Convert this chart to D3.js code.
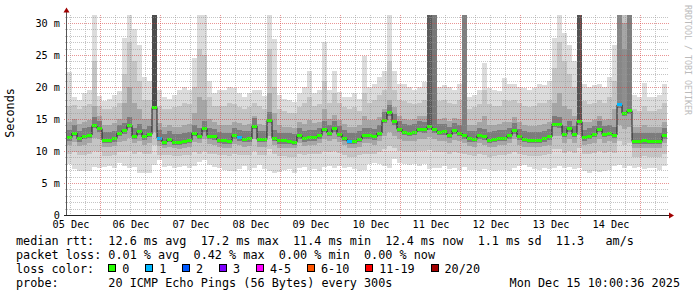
<!DOCTYPE html>
<html>
<head>
<meta charset="utf-8">
<script src="https://cdn.jsdelivr.net/npm/d3@7"></script>
<style>
	body { margin: 0; background: #fff; }
	svg { display: block; }
	text { font-family: 'DejaVu Sans Mono', monospace; fill: #000; white-space: pre; }
</style>
</head>
<body>
<script>
// 2 hour slots, 05 Dec 10:36 -> 15 Dec 10:36 (UTC used as wall clock)
const median = [
	12.1, 12.8, 11.9, 12.3, 12.5, 14.0, 13.5, 11.7, 11.7, 11.9,
	12.8, 13.2, 14.0, 12.3, 13.0, 12.2, 12.6, 16.8, 12.0, 11.4,
	11.8, 11.4, 11.4, 11.5, 11.7, 12.8, 12.3, 13.5, 12.3, 12.2,
	11.7, 11.6, 11.5, 12.4, 12.1, 11.8, 11.9, 13.9, 11.8, 11.8,
	14.8, 12.0, 11.6, 11.6, 11.5, 11.4, 12.4, 11.9, 12.1, 12.1,
	12.4, 13.4, 12.8, 13.5, 12.6, 12.0, 11.5, 11.5, 11.8, 12.4,
	12.4, 12.2, 12.8, 14.8, 16.0, 14.6, 13.4, 12.9, 12.8, 12.9,
	13.4, 13.3, 13.8, 13.3, 12.9, 13.0, 12.5, 13.2, 12.8, 12.4,
	11.9, 11.8, 12.4, 12.2, 11.7, 11.8, 12.0, 12.0, 12.4, 13.2,
	12.2, 11.8, 11.7, 11.7, 11.7, 11.9, 12.2, 14.2, 14.1, 12.6,
	13.5, 12.6, 14.6, 12.1, 12.3, 12.6, 13.4, 12.6, 12.8, 12.5,
	17.2, 15.9, 16.3, 11.5, 11.5, 11.6, 11.5, 11.5, 11.5, 12.4
];
const maxRtt = [
	22.4, 18.5, 18.0, 19.0, 19.5, 32, 18.6, 17.8, 18.2, 18.8,
	19.3, 27.6, 32, 29.0, 26.5, 21.5, 21.0, 32, 19.5, 18.5,
	18.2, 18.8, 19.5, 20.0, 19.5, 24.5, 32, 32, 21.0, 19.0,
	19.5, 19.5, 20.0, 19.8, 19.0, 18.5, 19.0, 19.5, 19.6, 18.6,
	32, 27.5, 18.8, 18.2, 18.0, 17.6, 19.0, 20.0, 22.5, 19.0,
	19.5, 27.0, 19.5, 22.5, 19.2, 18.5, 18.5, 19.0, 18.2, 24.8,
	20.0, 20.5, 21.5, 22.5, 32, 22.5, 20.5, 20.5, 20.0, 19.5,
	20.0, 20.8, 32, 32, 20.0, 20.3, 20.0, 19.5, 20.5, 32,
	18.5, 18.8, 19.5, 23.7, 19.8, 19.5, 19.3, 21.4, 20.5, 20.5,
	20.0, 19.8, 19.5, 19.8, 20.5, 20.3, 21.0, 27.6, 32, 28.4,
	26.5, 24.0, 32, 20.5, 20.0, 20.3, 20.5, 20.0, 21.5, 26.6,
	32, 32, 32, 18.8, 18.5, 20.7, 18.5, 18.5, 18.8, 20.5
];
const p90 = [
	17.0, 17.2, 16.5, 17.0, 17.3, 24.0, 17.0, 16.5, 16.5, 16.8,
	17.5, 22.0, 27.0, 24.0, 21.0, 18.0, 18.0, 32, 17.0, 16.5,
	16.5, 16.8, 17.0, 17.5, 17.3, 20.0, 26.0, 25.0, 18.5, 17.0,
	17.0, 17.0, 17.5, 17.3, 16.8, 16.5, 16.8, 17.5, 17.0, 16.5,
	26.0, 20.0, 16.5, 16.3, 16.0, 16.0, 16.8, 17.5, 18.5, 17.0,
	17.3, 21.0, 17.5, 19.0, 17.5, 16.8, 16.5, 16.8, 16.3, 19.0,
	17.5, 18.0, 18.8, 19.5, 24.0, 19.5, 18.0, 17.8, 17.5, 17.3,
	17.5, 18.0, 32, 32, 17.8, 18.0, 17.5, 17.3, 18.0, 32,
	16.5, 16.8, 17.3, 19.5, 17.3, 17.0, 17.0, 18.0, 17.8, 18.0,
	17.5, 17.0, 16.8, 17.0, 17.5, 17.5, 18.0, 23.0, 27.0, 24.0,
	22.0, 20.0, 32, 17.8, 17.3, 17.5, 18.0, 17.5, 18.5, 21.0,
	32, 32, 32, 16.5, 16.3, 17.0, 16.3, 16.3, 16.5, 17.5
];
const p75 = [
	14.5, 15.0, 14.2, 14.6, 14.8, 17.0, 15.5, 14.0, 14.0, 14.3,
	15.0, 17.5, 20.0, 17.5, 16.5, 15.0, 15.0, 32, 14.3, 13.8,
	14.0, 13.8, 13.7, 14.0, 14.2, 16.0, 18.5, 18.0, 15.0, 14.5,
	14.0, 14.0, 14.0, 14.6, 14.3, 14.0, 14.2, 15.5, 14.2, 14.0,
	19.0, 16.0, 14.0, 13.8, 13.7, 13.6, 14.5, 14.2, 14.8, 14.4,
	14.6, 16.5, 15.0, 15.7, 14.8, 14.2, 13.8, 13.8, 14.0, 15.5,
	14.8, 14.8, 15.3, 16.5, 18.0, 16.8, 15.5, 15.0, 14.9, 15.0,
	15.5, 15.4, 32, 20.0, 15.0, 15.1, 14.7, 15.2, 15.0, 22.0,
	14.0, 14.0, 14.6, 15.5, 14.0, 14.0, 14.2, 14.6, 14.6, 15.3,
	14.5, 14.0, 13.9, 13.9, 14.0, 14.2, 14.6, 17.5, 19.0, 17.0,
	16.5, 15.5, 32, 14.5, 14.6, 14.8, 15.5, 14.8, 15.0, 16.5,
	32, 30.0, 32, 13.8, 13.7, 14.0, 13.7, 13.7, 13.8, 14.6
];
const p25 = [
	11.0, 11.4, 10.8, 11.0, 11.2, 12.0, 11.8, 10.7, 10.6, 10.8,
	11.4, 11.6, 12.0, 11.2, 11.5, 11.0, 11.3, 13.0, 10.8, 10.4,
	10.6, 10.4, 10.3, 10.5, 10.6, 11.4, 11.2, 11.8, 11.1, 11.0,
	10.6, 10.5, 10.4, 11.1, 10.9, 10.7, 10.8, 11.8, 10.7, 10.7,
	12.3, 10.9, 10.5, 10.5, 10.4, 10.4, 11.2, 10.8, 11.0, 11.0,
	11.2, 11.8, 11.5, 11.9, 11.4, 10.9, 10.4, 10.4, 10.7, 11.2,
	11.2, 11.0, 11.5, 12.3, 13.0, 12.3, 11.8, 11.5, 11.5, 11.6,
	11.9, 11.8, 12.2, 11.8, 11.6, 11.6, 11.2, 11.7, 11.5, 11.2,
	10.8, 10.7, 11.2, 11.0, 10.6, 10.7, 10.9, 10.9, 11.2, 11.8,
	11.0, 10.7, 10.6, 10.6, 10.6, 10.8, 11.0, 12.3, 12.3, 11.3,
	11.9, 11.3, 12.5, 11.0, 11.1, 11.3, 11.8, 11.3, 11.5, 11.3,
	14.0, 13.5, 13.8, 10.4, 10.4, 10.5, 10.4, 10.4, 10.4, 11.2
];
const p10 = [
	9.6, 9.8, 9.3, 9.4, 9.6, 10.0, 9.8, 9.2, 9.2, 9.4,
	9.8, 9.8, 10.0, 9.6, 9.8, 9.5, 9.6, 11.0, 9.4, 9.3,
	9.4, 9.2, 9.2, 9.3, 9.3, 9.8, 9.6, 10.0, 9.6, 9.5,
	9.4, 9.3, 9.2, 9.6, 9.4, 9.3, 9.4, 10.0, 9.3, 9.3,
	10.3, 9.5, 9.2, 9.2, 9.1, 9.1, 9.6, 9.4, 9.5, 9.5,
	9.6, 10.0, 9.8, 10.0, 9.7, 9.4, 9.1, 9.1, 9.3, 9.6,
	9.6, 9.5, 9.8, 10.3, 10.8, 10.4, 10.0, 9.8, 9.8, 9.8,
	10.0, 10.0, 10.2, 9.9, 9.8, 9.8, 9.6, 9.9, 9.7, 9.5,
	9.3, 9.2, 9.5, 9.4, 9.1, 9.2, 9.3, 9.3, 9.5, 9.9,
	9.5, 9.3, 9.2, 9.2, 9.2, 9.3, 9.5, 10.3, 10.3, 9.7,
	10.0, 9.7, 10.5, 9.5, 9.5, 9.7, 10.0, 9.7, 9.8, 9.7,
	11.5, 11.0, 11.3, 9.1, 9.1, 9.2, 9.1, 9.1, 9.1, 9.6
];
const minRtt = [
	8.0, 7.2, 6.8, 6.8, 6.9, 7.5, 7.3, 7.5, 7.6, 7.4,
	8.2, 7.6, 7.4, 7.5, 6.6, 6.5, 6.6, 7.8, 8.6, 7.5,
	7.6, 7.4, 7.5, 7.6, 7.3, 7.6, 8.3, 8.6, 7.8, 7.5,
	7.4, 7.0, 6.8, 6.9, 7.2, 7.6, 7.0, 7.3, 7.8, 7.2,
	6.8, 6.6, 6.7, 7.0, 7.2, 6.6, 7.3, 7.5, 7.0, 7.2,
	6.8, 7.5, 7.6, 7.4, 7.6, 7.3, 7.5, 7.2, 6.9, 7.0,
	8.0, 8.2, 8.0, 7.6, 7.4, 8.8, 8.2, 8.0, 7.8, 8.0,
	7.7, 7.9, 7.2, 7.4, 7.3, 7.6, 7.2, 7.3, 7.1, 7.5,
	7.0, 7.0, 6.9, 7.2, 7.0, 6.8, 7.1, 7.0, 6.9, 7.3,
	7.6, 7.8, 7.5, 7.2, 7.0, 7.3, 7.2, 7.4, 7.6, 7.3,
	7.5, 7.2, 7.4, 6.8, 6.6, 6.8, 6.7, 6.9, 7.0, 7.6,
	7.8, 7.4, 7.6, 7.3, 7.5, 7.2, 7.4, 7.3, 7.0, 7.6
];
// slots where many of the 20 pings were slow (dark smoke up to the top)
const darkSlots = [17, 72, 73, 79, 102, 110, 111, 112];
const darkTops = [32, 32, 32, 32, 32, 32, 26, 32];
const slowPings = [14, 12, 8, 7, 13, 6, 5, 7];
// slots where pings were lost, and how many
const lossSlots = [18, 34, 56, 110];
const lossCounts = [1, 1, 1, 1];

const lossLabels = ['0', '1', '2', '3', '4-5', '6-10', '11-19', '20/20'];
const lossColors = ['#26ff00', '#00b8ff', '#0059ff', '#7e00ff', '#ff00ff', '#ff5500', '#ff0000', '#a10000'];
const lossLimits = [0, 1, 2, 3, 5, 10, 19, 20];

const yTicks = [0, 5, 10, 15, 20, 25, 30];
const rttLine = 'median rtt:  12.6 ms avg  17.2 ms max  11.4 ms min  12.4 ms now  1.1 ms sd  11.3   am/s';
const lossLine = 'packet loss: 0.01 % avg  0.42 % max  0.00 % min  0.00 % now';
const probeLine = 'probe:       20 ICMP Echo Pings (56 Bytes) every 300s';
const stampLine = 'Mon Dec 15 10:00:36 2025';

const width = 697;
const height = 297;
const plotLeft = 67;
const plotRight = 667;
const plotTop = 15;
const plotBottom = 215;
const slotMs = 2 * 3600e3;
const t0 = Date.UTC(2025, 11, 5, 10, 36);
const t1 = t0 + 10 * 86400e3;
const charW = 7.1;

const svg = d3.select('body').append('svg').attr('width', width).attr('height', height);

const xScale = d3.scaleUtc().domain([ new Date(t0), new Date(t1) ]).range([ plotLeft, plotRight ]);
const yScale = d3.scaleLinear().domain([ 0, 31.25 ]).range([ plotBottom, plotTop ]);
const shade = d3.scaleLinear().domain([ 5, 14 ]).range([ '#8e8e8e', '#4c4c4c' ]);
const slotTime = (i) => new Date(t0 + i * slotMs);
const slotX = (i) => xScale(slotTime(i));
const slotW = (i) => xScale(slotTime(i + 1)) - xScale(slotTime(i));
const capY = (v) => yScale(Math.min(v, 31.5));

svg.append('clipPath').attr('id', 'plot').append('rect')
	.attr('x', plotLeft).attr('y', plotTop).attr('width', plotRight - plotLeft).attr('height', plotBottom - plotTop);

const chart = svg.append('g').attr('clip-path', 'url(#plot)');
const idx = median.map((d, i) => i);

// smoke
[ [ minRtt, maxRtt, '#dcdcdc' ], [ p10, p90, '#c4c4c4' ], [ p25, p75, '#a6a6a6' ] ].forEach(([ lo, hi, col ]) => {
	chart.append('g').attr('shape-rendering', 'crispEdges')
		.selectAll('rect').data(idx).join('rect')
		.attr('x', slotX)
		.attr('width', slotW)
		.attr('y', (i) => capY(hi[i]))
		.attr('height', (i) => yScale(lo[i]) - capY(hi[i]))
		.attr('fill', col);
});

// darkest smoke close to the median
chart.append('g').attr('shape-rendering', 'crispEdges')
	.selectAll('rect').data(idx).join('rect')
	.attr('x', slotX)
	.attr('width', slotW)
	.attr('y', (i) => yScale(median[i]) - 8)
	.attr('height', 11)
	.attr('fill', '#7c7c7c');

chart.append('g').attr('shape-rendering', 'crispEdges')
	.selectAll('rect').data(darkSlots).join('rect')
	.attr('x', slotX)
	.attr('width', slotW)
	.attr('y', (s, k) => capY(darkTops[k]))
	.attr('height', (s, k) => yScale(median[s]) - capY(darkTops[k]))
	.attr('fill', (s, k) => shade(slowPings[k]));

// grid
const grid = svg.append('g').attr('shape-rendering', 'crispEdges').attr('stroke-dasharray', '1,1');
const minorCol = 'rgba(150,150,150,0.55)';
const majorCol = 'rgba(215,60,60,0.55)';
const snap = (v) => Math.round(v) + 0.5;

d3.range(1, 32).forEach((v) => {
	const yy = snap(yScale(v));
	grid.append('line').attr('x1', plotLeft - (v % 5 ? 2 : 3)).attr('x2', plotRight + 2).attr('y1', yy).attr('y2', yy)
		.attr('stroke', v % 5 ? minorCol : majorCol);
});
d3.utcHour.every(6).range(new Date(t0), new Date(t1)).forEach((t) => {
	const xx = Math.floor(xScale(t)) + 0.5;
	const major = t.getUTCHours() === 0;
	grid.append('line').attr('x1', xx).attr('x2', xx).attr('y1', plotTop).attr('y2', plotBottom + (major ? 3 : 2))
		.attr('stroke', major ? majorCol : minorCol);
});

// median: black connectors and loss coloured segments
const stepPts = idx.map((i) => [ slotTime(i), median[i] ]).concat([ [ slotTime(idx.length), median[idx.length - 1] ] ]);
const stepLine = d3.line().x((d) => xScale(d[0])).y((d) => yScale(d[1])).curve(d3.curveStepAfter);
chart.append('path').attr('d', stepLine(stepPts)).attr('fill', 'none')
	.attr('stroke', '#1e1e1e').attr('stroke-width', 1);

const lossAt = (i) => {
	const k = lossSlots.indexOf(i);
	const n = k < 0 ? 0 : lossCounts[k];
	return lossColors[lossLimits.findIndex((l) => n <= l)];
};
chart.append('g').attr('shape-rendering', 'crispEdges')
	.selectAll('rect').data(idx).join('rect')
	.attr('x', slotX)
	.attr('width', slotW)
	.attr('y', (i) => yScale(median[i]) - 1.5)
	.attr('height', 3)
	.attr('fill', (i) => lossAt(i));

// axes
svg.append('line').attr('x1', 66.5).attr('x2', 66.5).attr('y1', 11).attr('y2', 216).attr('stroke', '#555');
svg.append('line').attr('x1', 64).attr('x2', 670).attr('y1', 215.5).attr('y2', 215.5).attr('stroke', '#222');
svg.append('path').attr('d', 'M66.5,7.5L63.5,12.5L69.5,12.5Z').attr('fill', '#a00000');
svg.append('path').attr('d', 'M674,215.5L669,212.5L669,218.5Z').attr('fill', '#a00000');

const noonTicks = d3.utcDay.range(new Date(Date.UTC(2025, 11, 5)), new Date(Date.UTC(2025, 11, 15)))
	.map((d) => d3.utcHour.offset(d, 12));
const xAxis = d3.axisBottom(xScale).tickValues(noonTicks).tickSize(0).tickFormat(d3.utcFormat('%d %b'));
const gx = svg.append('g').attr('transform', `translate(0, ${plotBottom})`).call(xAxis);
gx.select('.domain').remove();
gx.selectAll('text').attr('y', 13).attr('dy', null)
	.style('font-family', "'DejaVu Sans Mono', monospace").style('font-size', '10.2px').attr('fill', '#000');

const yAxis = d3.axisLeft(yScale).tickValues(yTicks).tickSize(0).tickFormat((v) => (v === 0 ? '0' : `${v} m`));
const gy = svg.append('g').attr('transform', 'translate(66, 0)').call(yAxis);
gy.select('.domain').remove();
gy.selectAll('text').attr('x', -6).attr('dy', '0.34em')
	.style('font-family', "'DejaVu Sans Mono', monospace").style('font-size', '10.2px').attr('fill', '#000');

svg.append('text').attr('transform', 'translate(14, 113) rotate(-90)').attr('text-anchor', 'middle')
	.style('font-size', '11.8px').text('Seconds');

svg.append('text').attr('transform', 'translate(685, 5) rotate(90)')
	.style('font-size', '8.3px').style('fill', '#bbb').text('RRDTOOL / TOBI OETIKER');

// legend
const legend = svg.append('g').style('font-size', '11.8px');
legend.append('text').attr('x', 16).attr('y', 245).text(rttLine);
legend.append('text').attr('x', 16).attr('y', 259).text(lossLine);
legend.append('text').attr('x', 16).attr('y', 273).text('loss color:');
legend.append('text').attr('x', 16).attr('y', 287).text(probeLine);
legend.append('text').attr('x', 680).attr('y', 287).attr('text-anchor', 'end').text(stampLine);

let bx = 16 + 13 * charW;
lossLabels.forEach((lab, i) => {
	legend.append('rect').attr('x', Math.round(bx) + 0.5).attr('y', 264.5).attr('width', 7).attr('height', 7)
		.attr('fill', lossColors[i]).attr('stroke', '#000').attr('shape-rendering', 'crispEdges');
	legend.append('text').attr('x', bx + 14).attr('y', 273).text(lab);
	bx += 14 + lab.length * charW + 15.8;
});
</script>
</body>
</html>
